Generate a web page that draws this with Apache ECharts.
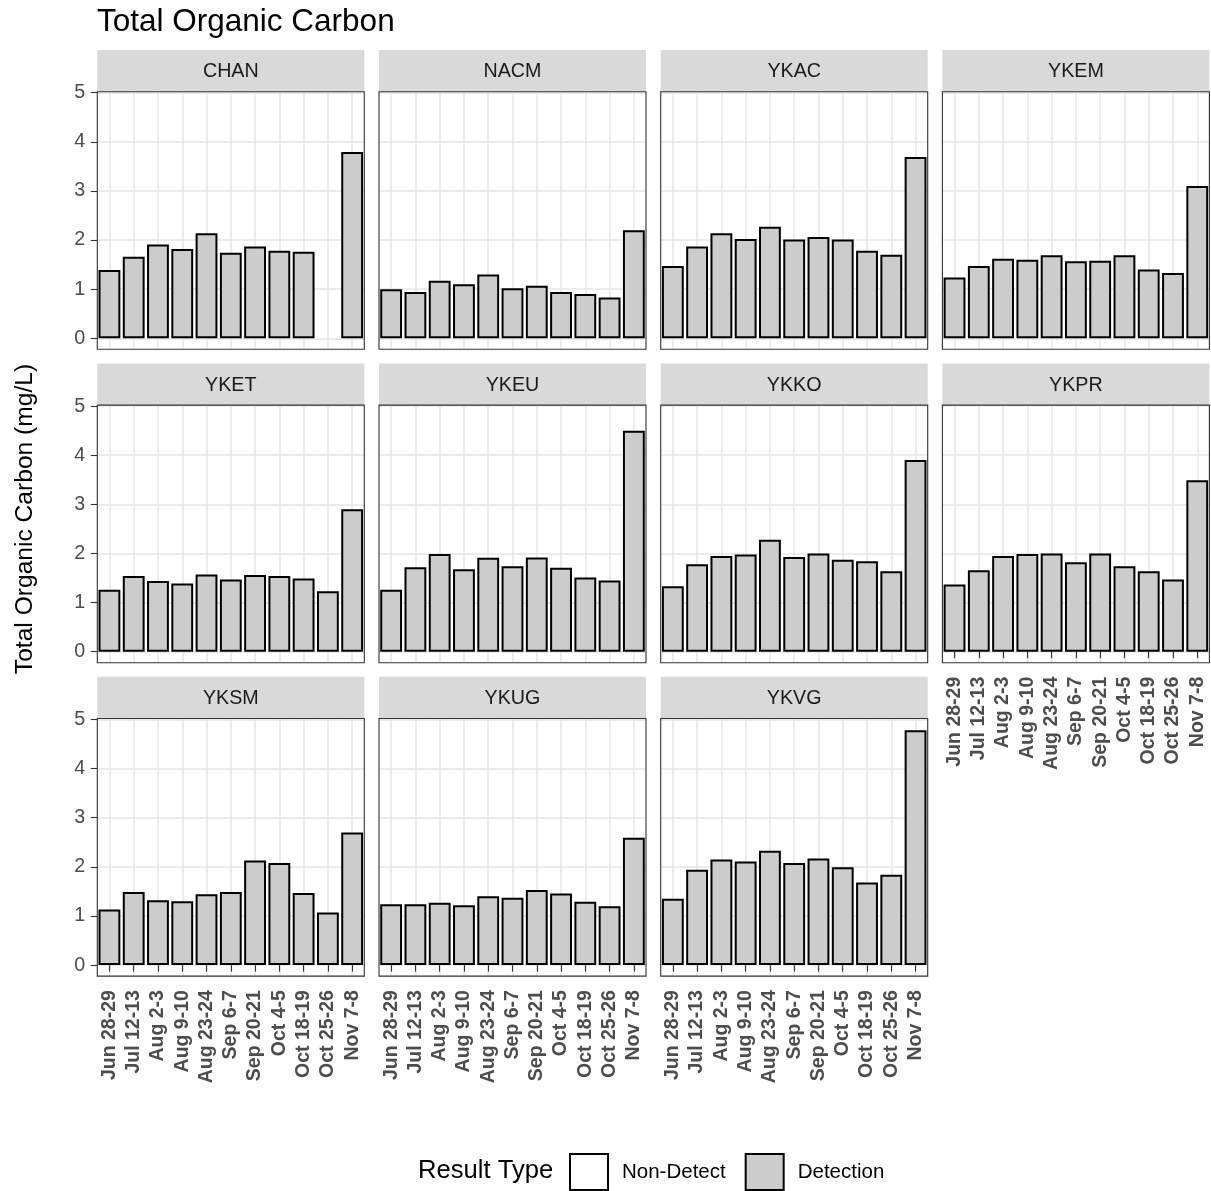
<!DOCTYPE html>
<html><head><meta charset="utf-8">
<script src="https://cdn.jsdelivr.net/npm/echarts@6/dist/echarts.min.js"></script>
<style>html,body{margin:0;padding:0;background:#fff}#c{width:1211px;height:1191px}</style>
</head><body><div id="c"></div>
<script>
const categories = ['Jun 28-29','Jul 12-13','Aug 2-3','Aug 9-10','Aug 23-24','Sep 6-7','Sep 20-21','Oct 4-5','Oct 18-19','Oct 25-26','Nov 7-8'];
const sites = ['CHAN','NACM','YKAC','YKEM','YKET','YKEU','YKKO','YKPR','YKSM','YKUG','YKVG'];
const yTicks = [0, 1, 2, 3, 4, 5];
const CHAN = [1.39,1.66,1.91,1.82,2.14,1.74,1.87,1.78,1.76,null,3.79];
const NACM = [1.00,0.94,1.17,1.10,1.30,1.02,1.07,0.94,0.90,0.83,2.20];
const YKAC = [1.47,1.87,2.14,2.02,2.27,2.01,2.06,2.01,1.78,1.70,3.69];
const YKEM = [1.24,1.47,1.62,1.60,1.69,1.57,1.58,1.69,1.40,1.33,3.10];
const YKET = [1.26,1.54,1.44,1.39,1.57,1.47,1.56,1.54,1.49,1.23,2.90];
const YKEU = [1.26,1.72,1.99,1.68,1.91,1.74,1.92,1.71,1.51,1.45,4.50];
const YKKO = [1.33,1.78,1.95,1.98,2.28,1.93,2.00,1.87,1.84,1.64,3.90];
const YKPR = [1.37,1.66,1.95,1.99,2.00,1.82,2.00,1.74,1.64,1.47,3.49];
const YKSM = [1.13,1.49,1.32,1.30,1.44,1.49,2.13,2.08,1.47,1.07,2.70];
const YKUG = [1.24,1.24,1.27,1.22,1.40,1.37,1.53,1.46,1.29,1.20,2.59];
const YKVG = [1.35,1.94,2.15,2.11,2.33,2.08,2.17,1.99,1.68,1.84,4.78];
const siteValues = [CHAN,NACM,YKAC,YKEM,YKET,YKEU,YKKO,YKPR,YKSM,YKUG,YKVG];

const FONT = "'Liberation Sans', Arial, sans-serif";
const PW = 267, PH = 257.6, SH = 41.7;
const colX = c => 97.3 + c * 281.7;
const rowY = r => 50 + r * 313.4;
const bottomPanels = [7, 8, 9, 10];
const GRID = { color: '#E6E6E6', width: 1.5 };

const grids = [], xAxes = [], yAxes = [], series = [], graphics = [];
sites.forEach((s, i) => {
  const r = Math.floor(i / 4), c = i % 4;
  const left = colX(c), stripTop = rowY(r), top = stripTop + SH;
  const isBottom = bottomPanels.includes(i), isLeft = c === 0;
  grids.push({ left, top, width: PW, height: PH, show: false });
  xAxes.push({
    type: 'category', gridIndex: i, data: categories, boundaryGap: true,
    axisLine: { show: false },
    axisTick: { show: isBottom, alignWithLabel: true, interval: 0, length: 6.5, lineStyle: { color: '#333', width: 1.1 } },
    axisLabel: { show: isBottom, rotate: 90, interval: 0, fontSize: 19.5, fontWeight: 'bold', color: '#4D4D4D', margin: 14, fontFamily: FONT },
    splitLine: { show: true, alignWithLabel: true, interval: 0, lineStyle: GRID }
  });
  yAxes.push({
    type: 'value', gridIndex: i, min: -0.224, max: 5.02,
    axisLine: { show: false },
    axisTick: { show: isLeft, customValues: yTicks, length: 6.5, lineStyle: { color: '#333', width: 1.1 } },
    axisLabel: { show: isLeft, customValues: yTicks, fontSize: 19.7, color: '#4D4D4D', margin: 12, fontFamily: FONT },
    splitLine: { show: true, lineStyle: GRID }
  });
  series.push({
    type: 'bar', name: 'Detection', xAxisIndex: i, yAxisIndex: i, stack: 'st' + i,
    data: siteValues[i], barWidth: '90%',
    itemStyle: { color: '#CCCCCC', borderColor: '#000', borderWidth: 2 },
    silent: true
  });
  if (i === 0) {
    series.push({
      type: 'bar', name: 'Non-Detect', xAxisIndex: 0, yAxisIndex: 0, stack: 'st0',
      data: [], barWidth: '90%',
      itemStyle: { color: '#FFFFFF', borderColor: '#000', borderWidth: 2 }, silent: true
    });
  }
  graphics.push({ type: 'rect', shape: { x: left, y: stripTop, width: PW, height: SH }, style: { fill: '#D9D9D9' }, z: 50, silent: true });
  graphics.push({ type: 'text', x: left + PW / 2, y: stripTop + SH / 2 + 1, style: { text: s, fill: '#1A1A1A', fontSize: 19.7, fontFamily: FONT, align: 'center', verticalAlign: 'middle' }, z: 51, silent: true });
  graphics.push({ type: 'rect', shape: { x: left, y: top, width: PW, height: PH }, style: { fill: 'none', stroke: '#333', lineWidth: 1.1 }, z: 60, silent: true });
});

graphics.push({ type: 'text', x: 25, y: 519, rotation: Math.PI / 2, style: { text: 'Total Organic Carbon (mg/L)', fill: '#000', fontSize: 24.6, fontFamily: FONT, align: 'center', verticalAlign: 'middle' }, silent: true });
graphics.push({ type: 'text', x: 418, y: 1171, style: { text: 'Result Type', fill: '#000', fontSize: 25.6, fontFamily: FONT, align: 'left', verticalAlign: 'middle' }, silent: true });

const chart = echarts.init(document.getElementById('c'), null, { renderer: 'canvas' });
chart.setOption({
  animation: false,
  backgroundColor: '#fff',
  title: { text: 'Total Organic Carbon', left: 97, top: 6, padding: 0, textStyle: { fontSize: 31.5, fontWeight: 'normal', color: '#000', fontFamily: FONT } },
  legend: {
    left: 569, top: 1153, padding: 0, orient: 'horizontal', itemWidth: 38, itemHeight: 36, itemGap: 19, icon: 'rect', selectedMode: false,
    textStyle: { fontSize: 20.5, color: '#000', fontFamily: FONT, padding: [0, 0, 0, 9] },
    data: [
      { name: 'Non-Detect', itemStyle: { color: '#FFFFFF', borderColor: '#000', borderWidth: 2 } },
      { name: 'Detection', itemStyle: { color: '#CCCCCC', borderColor: '#000', borderWidth: 2 } }
    ]
  },
  grid: grids, xAxis: xAxes, yAxis: yAxes, series: series, graphic: graphics
});
</script></body></html>
